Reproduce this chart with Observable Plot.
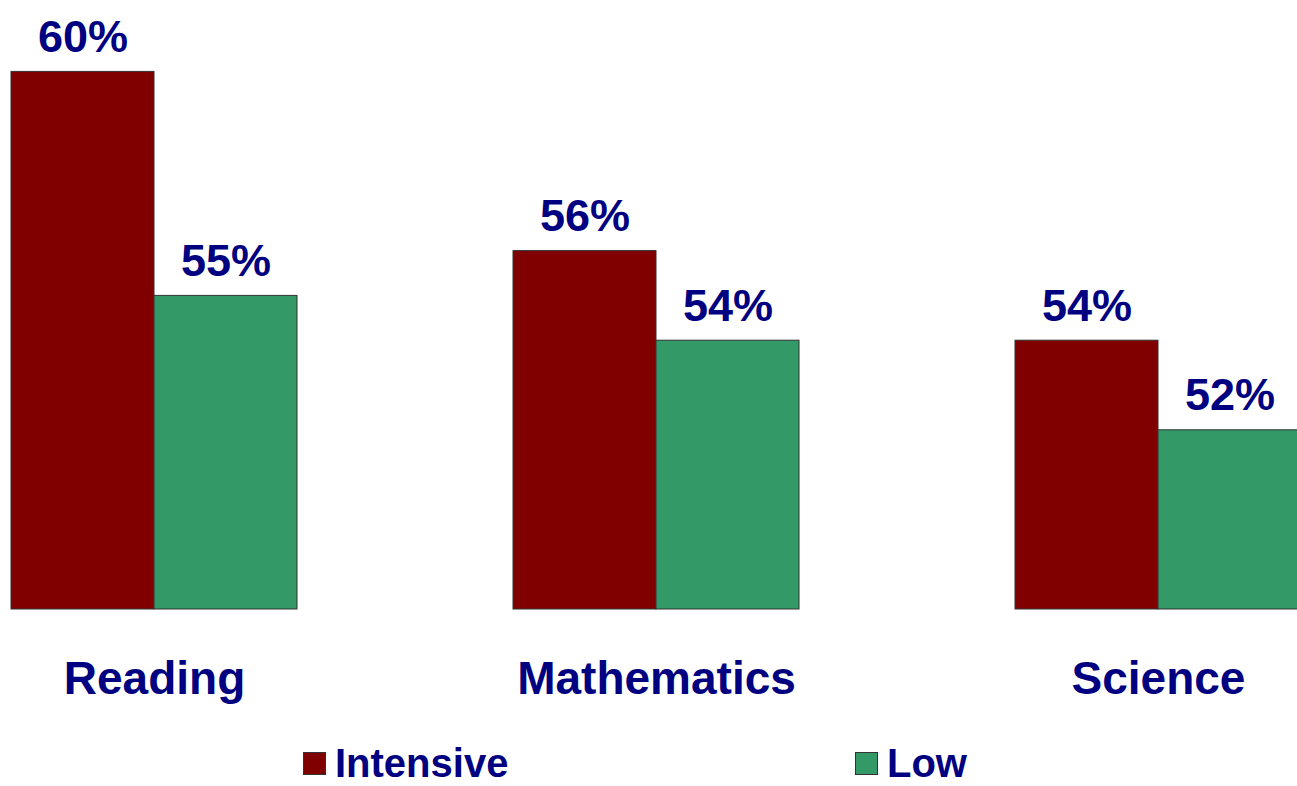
<!DOCTYPE html>
<html>
<head>
<meta charset="utf-8">
<script src="https://cdn.jsdelivr.net/npm/d3@7"></script>
<script src="https://cdn.jsdelivr.net/npm/@observablehq/plot@0.6"></script>
<style>
  html, body { margin: 0; padding: 0; background: #fff; overflow: hidden; }
  body { width: 1297px; height: 786px; font-family: "Liberation Sans", Arial, sans-serif; }
  #chart { width: 1297px; height: 740px; overflow: hidden; }
  #legend { position: relative; height: 46px; }
  .item { position: absolute; top: 0; display: flex; align-items: center; font-weight: bold; font-size: 40px; color: #000080; line-height: 46px; }
  .sw { width: 21px; height: 21px; border: 1px solid #333; margin-right: 9px; }
</style>
</head>
<body>
<div id="chart"></div>
<div id="legend"></div>
<script>
const subjects = ["Reading", "Mathematics", "Science"];
const series = ["Intensive", "Low"];
const intensive = [60, 56, 54];
const low = [55, 54, 52];
const colors = ["#800000", "#339966"];
const baseline = 48;

const data = [];
subjects.forEach((s, i) => {
  data.push({subject: s, series: "Intensive", value: intensive[i]});
  data.push({subject: s, series: "Low", value: low[i]});
});

const font = "'Liberation Sans', Arial, sans-serif";
const plot = Plot.plot({
  width: 1301,
  height: 740,
  marginTop: 0,
  marginLeft: 11,
  marginRight: 0,
  marginBottom: 131,
  style: {fontFamily: font, background: "#fff", maxWidth: "none", height: "740px"},
  fx: {domain: subjects, padding: 0.4303, label: null},
  x: {domain: series, padding: 0, axis: null},
  y: {domain: [baseline, baseline + 609 / 44.8], axis: null},
  color: {domain: series, range: colors},
  marks: [
    Plot.rectY(data, {fx: "subject", x: "series", y1: baseline, y2: "value", fill: "series", stroke: "#333", strokeWidth: 1}),
    Plot.text(data, {fx: "subject", x: "series", y: "value", text: d => d.value + "%", dy: -20, lineAnchor: "bottom",
      fill: "#000080", fontSize: 45, fontWeight: "bold"}),
    Plot.axisFx({anchor: "bottom", tickSize: 0, tickPadding: 52, fontSize: 46, fontWeight: "bold", color: "#000080", label: null})
  ]
});
plot.style.maxWidth = "none";
plot.style.width = "1301px";
plot.style.height = "740px";
document.getElementById("chart").appendChild(plot);

const legend = document.getElementById("legend");
const lefts = [303, 855];
series.forEach((s, i) => {
  const it = document.createElement("div");
  it.className = "item";
  it.style.left = lefts[i] + "px";
  const sw = document.createElement("div");
  sw.className = "sw";
  sw.style.background = colors[i];
  it.appendChild(sw);
  const t = document.createElement("span");
  t.textContent = s;
  it.appendChild(t);
  legend.appendChild(it);
});
</script>
</body>
</html>
